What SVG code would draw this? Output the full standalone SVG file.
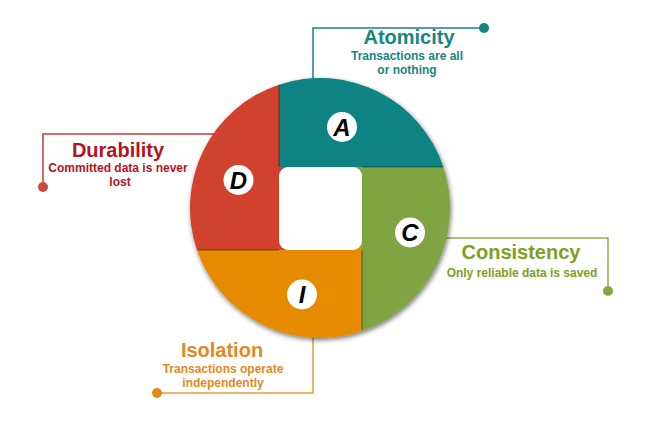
<svg xmlns="http://www.w3.org/2000/svg" width="650" height="422" viewBox="0 0 650 422">
  <defs>
    <filter id="shadow" x="-10%" y="-10%" width="120%" height="120%">
      <feGaussianBlur in="SourceAlpha" stdDeviation="2.5"/>
      <feOffset dx="1" dy="2" result="b"/>
      <feComponentTransfer><feFuncA type="linear" slope="0.55"/></feComponentTransfer>
      <feMerge><feMergeNode/><feMergeNode in="SourceGraphic"/></feMerge>
    </filter>
  </defs>
  <style>
    .title { font-family: "Liberation Sans", Arial, sans-serif; font-weight: bold; font-size: 20px; text-anchor: middle; }
    .sub { font-family: "Liberation Sans", Arial, sans-serif; font-weight: bold; font-size: 12px; text-anchor: middle; }
    .letter { font-family: "Liberation Sans", Arial, sans-serif; font-weight: bold; font-style: italic; font-size: 24px; text-anchor: middle; fill: #000; }
    .badge { fill: #fff; }
    .lead { fill: none; stroke-width: 1.5; }
    .sep { stroke: #000; stroke-opacity: 0.28; stroke-width: 1.5; }
  </style>
  <rect width="650" height="422" fill="#fff"/>

  <g id="connectors">
    <polyline class="lead" stroke="#16857d" points="313,80 313,28 484,28"/>
    <circle cx="484" cy="28" r="5" fill="#16857d"/>
    <polyline class="lead" stroke="#c4393a" points="214,134 43,134 43,187"/>
    <circle cx="43" cy="187" r="5" fill="#c94a44"/>
    <polyline class="lead" stroke="#8fb04e" points="446,238 608,238 608,291"/>
    <circle cx="608" cy="291" r="5" fill="#84a844"/>
    <polyline class="lead" stroke="#e79a35" points="313,336 313,393 157,393"/>
    <circle cx="157" cy="393" r="5" fill="#e08a1a"/>
  </g>

  <g id="wheel" filter="url(#shadow)">
    <path fill="#0b8383" d="M279,84.63 A130,130 0 0 1 443.37,167 L362,167 L362,178 L279,178 Z"/>
    <path fill="#80a443" d="M443.37,167 A130,130 0 0 1 362,331.03 L362,250 L351,250 L351,167 Z"/>
    <path fill="#e68a00" d="M362,331.03 A130,130 0 0 1 196.97,250 L279,250 L279,239 L362,239 Z"/>
    <path fill="#d1432f" d="M196.97,250 A130,130 0 0 1 279,84.63 L279,167 L290,167 L290,250 Z"/>
  </g>
  <g id="separators">
    <line class="sep" x1="279" y1="85" x2="279" y2="167"/>
    <line class="sep" x1="362" y1="167" x2="443" y2="167"/>
    <line class="sep" x1="362" y1="250" x2="362" y2="330"/>
    <line class="sep" x1="198" y1="250" x2="279" y2="250"/>
  </g>
  <rect id="hole" x="279" y="167" width="83" height="83" rx="9" fill="#fff"/>

  <g id="node-A">
    <circle class="badge" cx="342" cy="127" r="15"/>
    <text class="letter" x="342" y="135.5">A</text>
    <text class="title" x="409" y="44" fill="#17877f">Atomicity</text>
    <text class="sub" x="407" y="60" fill="#17877f">Transactions are all</text>
    <text class="sub" x="407" y="74" fill="#17877f">or nothing</text>
  </g>
  <g id="node-C">
    <circle class="badge" cx="410" cy="232.5" r="15"/>
    <text class="letter" x="410" y="241">C</text>
    <text class="title" x="521" y="259" fill="#7ba21b">Consistency</text>
    <text class="sub" x="522" y="277" fill="#7ba21b">Only reliable data is saved</text>
  </g>
  <g id="node-I">
    <circle class="badge" cx="302" cy="294.5" r="15"/>
    <text class="letter" x="302" y="303">I</text>
    <text class="title" x="222" y="357" fill="#e08a1e">Isolation</text>
    <text class="sub" x="223" y="373" fill="#e08a1e">Transactions operate</text>
    <text class="sub" x="223" y="387" fill="#e08a1e">independently</text>
  </g>
  <g id="node-D">
    <circle class="badge" cx="238.5" cy="180" r="15"/>
    <text class="letter" x="238.5" y="188.5">D</text>
    <text class="title" x="118" y="157" fill="#b3141b">Durability</text>
    <text class="sub" x="118" y="172" fill="#b3141b">Committed data is never</text>
    <text class="sub" x="120" y="186" fill="#b3141b">lost</text>
  </g>
</svg>
